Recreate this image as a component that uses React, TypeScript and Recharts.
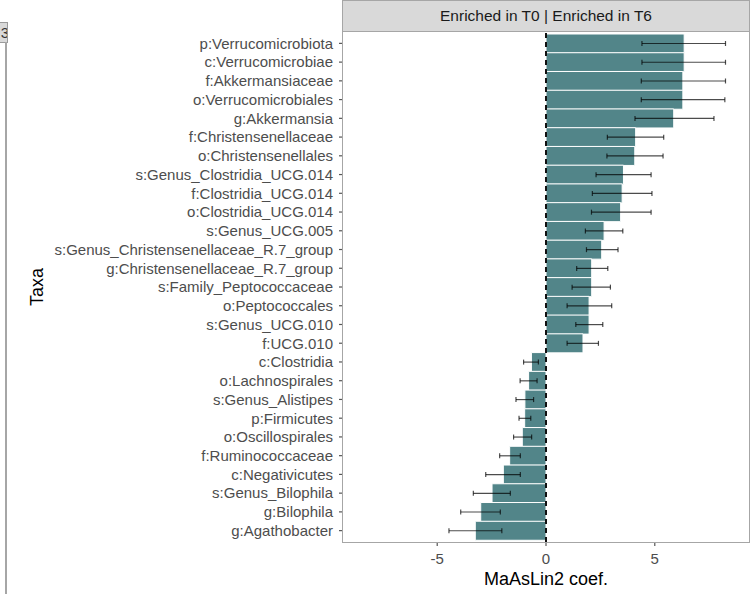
import React from 'react';
import { BarChart, Bar, XAxis, YAxis, ErrorBar, ReferenceLine, Label } from 'recharts';

const taxa = [
  'p:Verrucomicrobiota',
  'c:Verrucomicrobiae',
  'f:Akkermansiaceae',
  'o:Verrucomicrobiales',
  'g:Akkermansia',
  'f:Christensenellaceae',
  'o:Christensenellales',
  's:Genus_Clostridia_UCG.014',
  'f:Clostridia_UCG.014',
  'o:Clostridia_UCG.014',
  's:Genus_UCG.005',
  's:Genus_Christensenellaceae_R.7_group',
  'g:Christensenellaceae_R.7_group',
  's:Family_Peptococcaceae',
  'o:Peptococcales',
  's:Genus_UCG.010',
  'f:UCG.010',
  'c:Clostridia',
  'o:Lachnospirales',
  's:Genus_Alistipes',
  'p:Firmicutes',
  'o:Oscillospirales',
  'f:Ruminococcaceae',
  'c:Negativicutes',
  's:Genus_Bilophila',
  'g:Bilophila',
  'g:Agathobacter',
];

const coef = [6.35, 6.35, 6.29, 6.29, 5.87, 4.12, 4.08, 3.56, 3.5, 3.43, 2.67, 2.56, 2.1, 2.1, 1.98, 1.98, 1.7,
  -0.67, -0.8, -0.97, -0.98, -1.09, -1.67, -1.96, -2.48, -3.0, -3.25];
const ciLow = [4.41, 4.41, 4.38, 4.38, 4.09, 2.82, 2.8, 2.3, 2.13, 2.09, 1.81, 1.86, 1.41, 1.2, 0.97, 1.37, 0.97,
  -1.03, -1.19, -1.38, -1.24, -1.49, -2.13, -2.77, -3.34, -3.92, -4.46];
const ciHigh = [8.25, 8.25, 8.25, 8.22, 7.72, 5.41, 5.38, 4.83, 4.87, 4.83, 3.53, 3.31, 2.84, 2.96, 3.02, 2.61, 2.41,
  -0.35, -0.41, -0.57, -0.7, -0.66, -1.18, -1.18, -1.64, -2.1, -2.03];

const xTicks = [-5, 0, 5];
const xDomain = [-9.33, 9.33];
const stripLabel = 'Enriched in T0 | Enriched in T6';
const xTitle = 'MaAsLin2 coef.';
const yTitle = 'Taxa';

const data = taxa.map((t, i) => ({
  taxon: t,
  coef: coef[i],
  err: [coef[i] - ciLow[i], ciHigh[i] - coef[i]],
}));

const FONT = '"Liberation Sans", Arial, sans-serif';

export default function App() {
  return (
    <div style={{ position: 'absolute', left: 0, top: 0, width: 755, height: 594, background: '#fff', fontFamily: FONT, overflow: 'hidden' }}>
      {/* partial neighbouring panel at left edge */}
      <div style={{ position: 'absolute', left: -14, top: 22, width: 20, height: 19, background: '#d9d9d9', border: '1px solid #9a9a9a', overflow: 'hidden' }}>
        <span style={{ position: 'absolute', right: -2, top: 1, fontSize: 15, color: '#333' }}>3</span>
      </div>
      <div style={{ position: 'absolute', left: 5, top: 42, width: 2, height: 552, background: '#a6a6a6' }} />

      <BarChart
        width={755}
        height={594}
        data={data}
        layout="vertical"
        margin={{ top: 32, right: 6, bottom: 0, left: 0 }}
        barCategoryGap={0}
      >
        <XAxis
          type="number"
          domain={xDomain}
          ticks={xTicks}
          allowDataOverflow
          height={52}
          tickSize={4}
          tickMargin={7}
          axisLine={false}
          tickLine={{ stroke: '#555', strokeWidth: 1.2 }}
          tick={{ fill: '#4d4d4d', fontSize: 15, fontFamily: FONT }}
        >
          <Label value={xTitle} position="insideBottom" offset={9} style={{ fill: '#000', fontSize: 18, fontFamily: FONT }} />
        </XAxis>
        <YAxis
          type="category"
          dataKey="taxon"
          width={343}
          interval={0}
          tickSize={4}
          tickMargin={6}
          axisLine={false}
          padding={{ top: 2, bottom: 2 }}
          tickLine={{ stroke: '#555', strokeWidth: 1.2 }}
          tick={{ fill: '#4d4d4d', fontSize: 15, fontFamily: FONT }}
        >
          <Label
            content={(props: any) => {
              const vb = props.viewBox || {};
              const cx = 37;
              const cy = (vb.y ?? 32) + (vb.height ?? 510) / 2;
              return (
                <text x={cx} y={cy} transform={`rotate(-90, ${cx}, ${cy})`} textAnchor="middle" dominantBaseline="central" fontSize={18} fontFamily={FONT} fill="#000">
                  {yTitle}
                </text>
              );
            }}
          />
        </YAxis>
        <Bar dataKey="coef" fill="#528589" stroke="#ffffff" strokeWidth={1} isAnimationActive={false}>
          <ErrorBar dataKey="err" direction="x" width={2.5} stroke="#000" strokeOpacity={0.7} strokeWidth={1.2} />
        </Bar>
        <ReferenceLine x={0} stroke="#111" strokeWidth={2} strokeDasharray="5 4" />
      </BarChart>

      {/* panel border */}
      <div style={{ position: 'absolute', left: 342, top: 31, width: 408, height: 512, border: '1.5px solid #a6a6a6', boxSizing: 'border-box', pointerEvents: 'none' }} />
      {/* facet strip */}
      <div style={{ position: 'absolute', left: 342, top: 0, width: 408, height: 32, background: '#d9d9d9', border: '1.5px solid #a6a6a6', boxSizing: 'border-box', display: 'flex', alignItems: 'center', justifyContent: 'center', fontSize: 15.5, color: '#1a1a1a' }}>
        {stripLabel}
      </div>
    </div>
  );
}
